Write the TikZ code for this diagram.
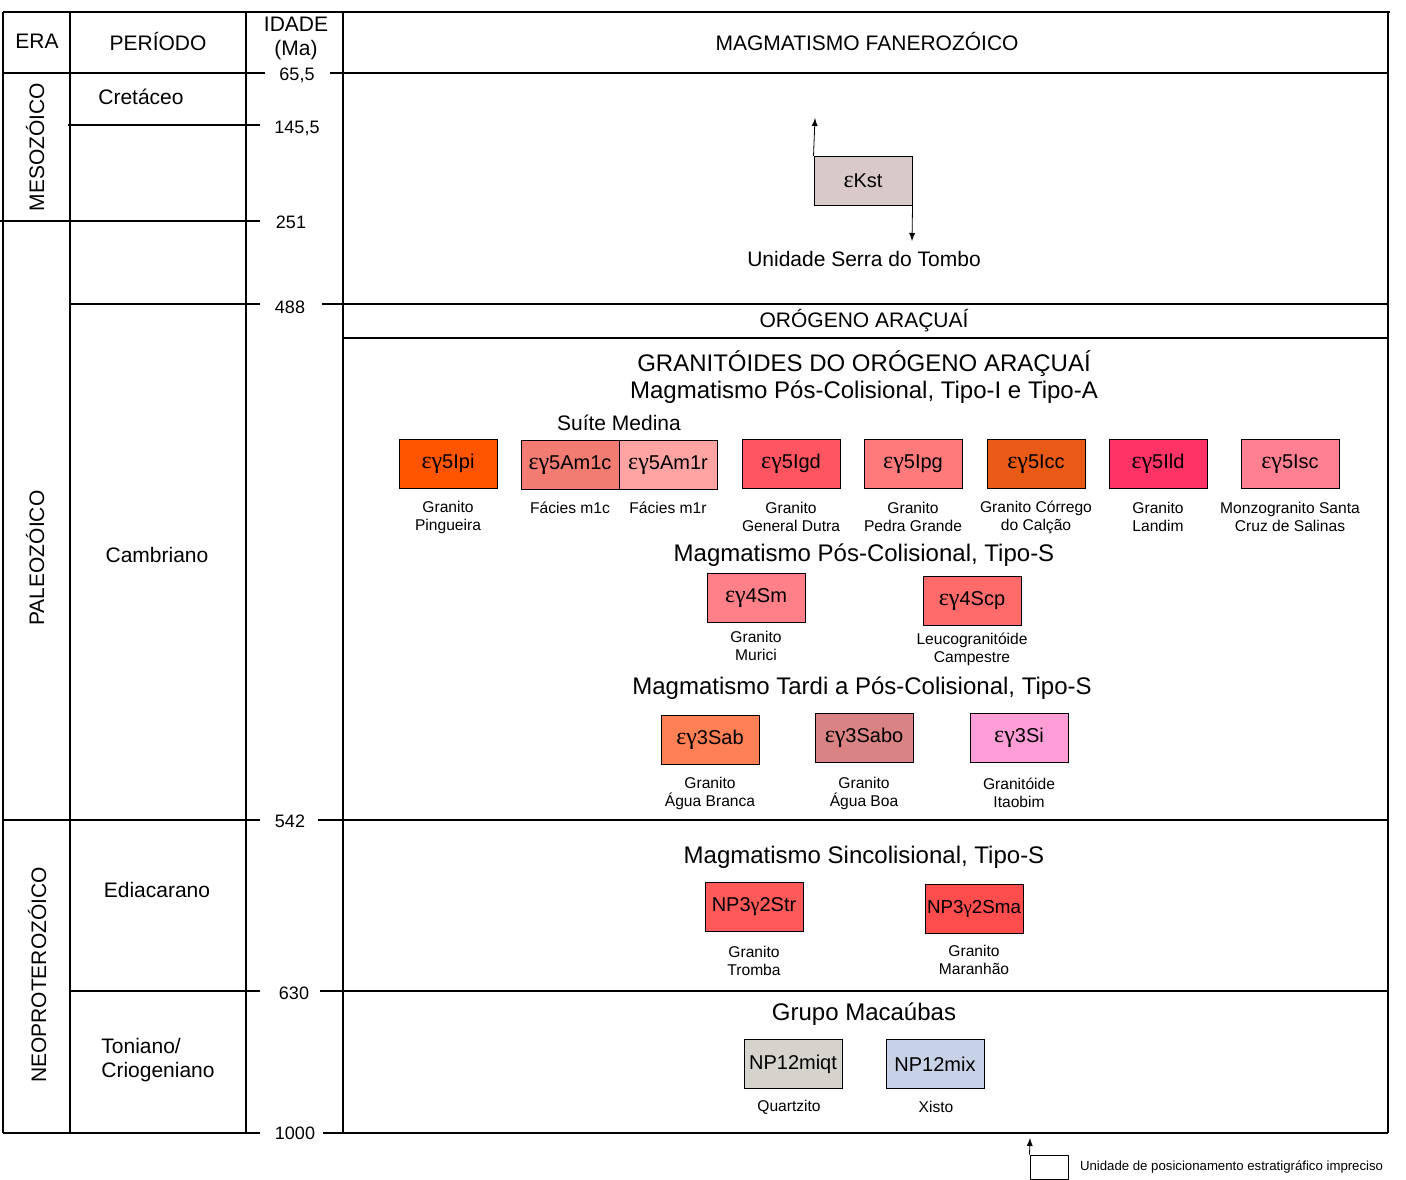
\documentclass[tikz,border=0pt]{standalone}
\usepackage{fontspec}
\setmainfont{Liberation Sans}
\newfontfamily\grk{Liberation Serif}

\definecolor{cKst}{HTML}{D9C9C9}
\definecolor{cIpi}{HTML}{FF5500}
\definecolor{cAmc}{HTML}{F27C72}
\definecolor{cAmr}{HTML}{FFA3A3}
\definecolor{cIgd}{HTML}{FF5560}
\definecolor{cIpg}{HTML}{FF7A7A}
\definecolor{cIcc}{HTML}{E85A15}
\definecolor{cIld}{HTML}{FF3366}
\definecolor{cIsc}{HTML}{FF8090}
\definecolor{cSm}{HTML}{FF8088}
\definecolor{cScp}{HTML}{FF6B6B}
\definecolor{cSab}{HTML}{FF8055}
\definecolor{cSabo}{HTML}{D98385}
\definecolor{cSi}{HTML}{FF9ED6}
\definecolor{cStr}{HTML}{FF5A5A}
\definecolor{cSma}{HTML}{FF4D4D}
\definecolor{cMiqt}{HTML}{D6D2CC}
\definecolor{cMix}{HTML}{C8D2E6}

\newcommand{\eg}{{\grk\fontsize{12}{12}\selectfont εγ}}
\newcommand{\gm}{{\grk γ}}

\tikzset{
  rule/.style={line width=1.1pt},
  unitbox/.style={draw, line width=.5pt, minimum width=49pt, minimum height=24.5pt,
    inner sep=0pt, font=\fontsize{10}{12}\selectfont},
  desc/.style={align=center, font=\fontsize{7.8}{9}\selectfont},
  head/.style={font=\fontsize{12}{13.5}\selectfont},
  txt/.style={font=\fontsize{10.5}{12}\selectfont},
  age/.style={font=\fontsize{9}{10}\selectfont},
}

\begin{document}
\begin{tikzpicture}[>=latex, x=.5pt, y=-.5pt]
\useasboundingbox (0,0) rectangle (1406,1179);

% table frame
\draw[rule] (3,12) -- (1390,12);
\foreach \x in {3,70,246,343,1388}
{
    \draw[rule] (\x,12) -- (\x,1133);
}
\draw[rule] (3,73) -- (265,73) (330,73) -- (1388,73);
\draw[rule] (68,125) -- (260,125);
\draw[rule] (0,221) -- (260,221);
\draw[rule] (70,304) -- (260,304) (322,304) -- (1388,304);
\draw[rule] (343,338) -- (1388,338);
\draw[rule] (3,820) -- (260,820) (318,820) -- (1388,820);
\draw[rule] (70,991) -- (260,991) (320,991) -- (1388,991);
\draw[rule] (3,1133) -- (260,1133) (323,1133) -- (1388,1133);

% headers
\node[txt] (era) at (37,41) {ERA};
\node[txt] (periodo) at (158,41) {PERÍODO};
\node[txt, align=center] (idade) at (296,38) {IDADE\\(Ma)};
\node[txt] (fanero) at (867,41) {MAGMATISMO FANEROZÓICO};

% eras
\node[txt, rotate=90] (meso) at (35,147) {MESOZÓICO};
\node[txt, rotate=90] (paleo) at (35,558) {PALEOZÓICO};
\node[txt, rotate=90] (neo) at (37,975) {NEOPROTEROZÓICO};

% periods
\node[txt] (cret) at (141,97) {Cretáceo};
\node[txt] (camb) at (157,555) {Cambriano};
\node[txt] (edia) at (157,890) {Ediacarano};
\node[txt, align=left] (toni) at (158,1060) {Toniano/\\Criogeniano};

% ages
\node[age] (a65) at (297,75) {65,5};
\node[age] (a145) at (297,128) {145,5};
\node[age] (a251) at (291,222) {251};
\node[age] (a488) at (290,307) {488};
\node[age] (a542) at (290,821) {542};
\node[age] (a630) at (294,993) {630};
\node[age] (a1000) at (295,1133) {1000};

% Serra do Tombo
\node[unitbox, fill=cKst] (kst) at (863,181) {{\grk\fontsize{12}{12}\selectfont ε}Kst};
\coordinate (kstup) at (815,118);
\coordinate (kstdn) at (912,241);
\draw[->] (kst.north west) -- (kstup);
\draw[->] (kst.south east) -- (kstdn);
\node[txt] (tombo) at (864,259) {Unidade Serra do Tombo};

\node[txt] (orogeno) at (864,321) {ORÓGENO ARAÇUAÍ};

% pos-colisional I e A
\node[head, align=center] (granit) at (864,377)
  {GRANITÓIDES DO ORÓGENO ARAÇUAÍ\\Magmatismo Pós-Colisional, Tipo-I e Tipo-A};
\node[txt] (medina) at (619,423) {Suíte Medina};

\node[unitbox, fill=cIpi] (ipi) at (448,464) {\eg5Ipi};
\node[unitbox, fill=cAmc] (amc) at (570,465) {\eg5Am1c};
\node[unitbox, fill=cAmr] (amr) at (668,465) {\eg5Am1r};
\node[unitbox, fill=cIgd] (igd) at (791,464) {\eg5Igd};
\node[unitbox, fill=cIpg] (ipg) at (913,464) {\eg5Ipg};
\node[unitbox, fill=cIcc] (icc) at (1036,464) {\eg5Icc};
\node[unitbox, fill=cIld] (ild) at (1158,464) {\eg5Ild};
\node[unitbox, fill=cIsc] (isc) at (1290,464) {\eg5Isc};

\node[desc] (dipi) at (448,517) {Granito\\Pingueira};
\node[desc] (damc) at (570,508) {Fácies m1c};
\node[desc] (damr) at (668,508) {Fácies m1r};
\node[desc] (digd) at (791,517) {Granito\\General Dutra};
\node[desc] (dipg) at (913,517) {Granito\\Pedra Grande};
\node[desc] (dicc) at (1036,517) {Granito Córrego\\do Calção};
\node[desc] (dild) at (1158,517) {Granito\\Landim};
\node[desc] (disc) at (1290,517) {Monzogranito Santa\\Cruz de Salinas};

% pos-colisional S
\node[head] (posS) at (864,555) {Magmatismo Pós-Colisional, Tipo-S};
\node[unitbox, fill=cSm] (sm) at (756,598) {\eg4Sm};
\node[unitbox, fill=cScp] (scp) at (972,601) {\eg4Scp};
\node[desc] (dsm) at (756,646) {Granito\\Murici};
\node[desc] (dscp) at (972,649) {Leucogranitóide\\Campestre};

% tardi a pos-colisional S
\node[head] (tardi) at (862,688) {Magmatismo Tardi a Pós-Colisional, Tipo-S};
\node[unitbox, fill=cSab] (sab) at (710,740) {\eg3Sab};
\node[unitbox, fill=cSabo] (sabo) at (864,738) {\eg3Sabo};
\node[unitbox, fill=cSi] (si) at (1019,738) {\eg3Si};
\node[desc] (dsab) at (710,793) {Granito\\Água Branca};
\node[desc] (dsabo) at (864,793) {Granito\\Água Boa};
\node[desc] (dsi) at (1019,793) {Granitóide\\Itaobim};

% sincolisional
\node[head] (sinc) at (864,857) {Magmatismo Sincolisional, Tipo-S};
\node[unitbox, fill=cStr] (str) at (754,907) {NP3\gm2Str};
\node[unitbox, fill=cSma, font=\fontsize{9.4}{12}\selectfont] (sma) at (974,909) {NP3\gm2Sma};
\node[desc] (dstr) at (754,961) {Granito\\Tromba};
\node[desc] (dsma) at (974,960) {Granito\\Maranhão};

% Macaubas
\node[head] (macau) at (864,1014) {Grupo Macaúbas};
\node[unitbox, fill=cMiqt] (miqt) at (793,1064) {NP12miqt};
\node[unitbox, fill=cMix] (mix) at (935,1064) {NP12mix};
\node[desc] (dmiqt) at (789,1107) {Quartzito};
\node[desc] (dmix) at (936,1107) {Xisto};

% legend
\node[draw, line width=.5pt, minimum width=19pt, minimum height=12pt, inner sep=0pt] (leg) at (1049,1167) {};
\coordinate (legup) at (1030,1138);
\draw[->] (leg.north west) -- (legup);
\node[anchor=west, font=\fontsize{6.6}{7.5}\selectfont] (legtxt) at (1073,1167)
  {Unidade de posicionamento estratigráfico impreciso};
\end{tikzpicture}
\end{document}
